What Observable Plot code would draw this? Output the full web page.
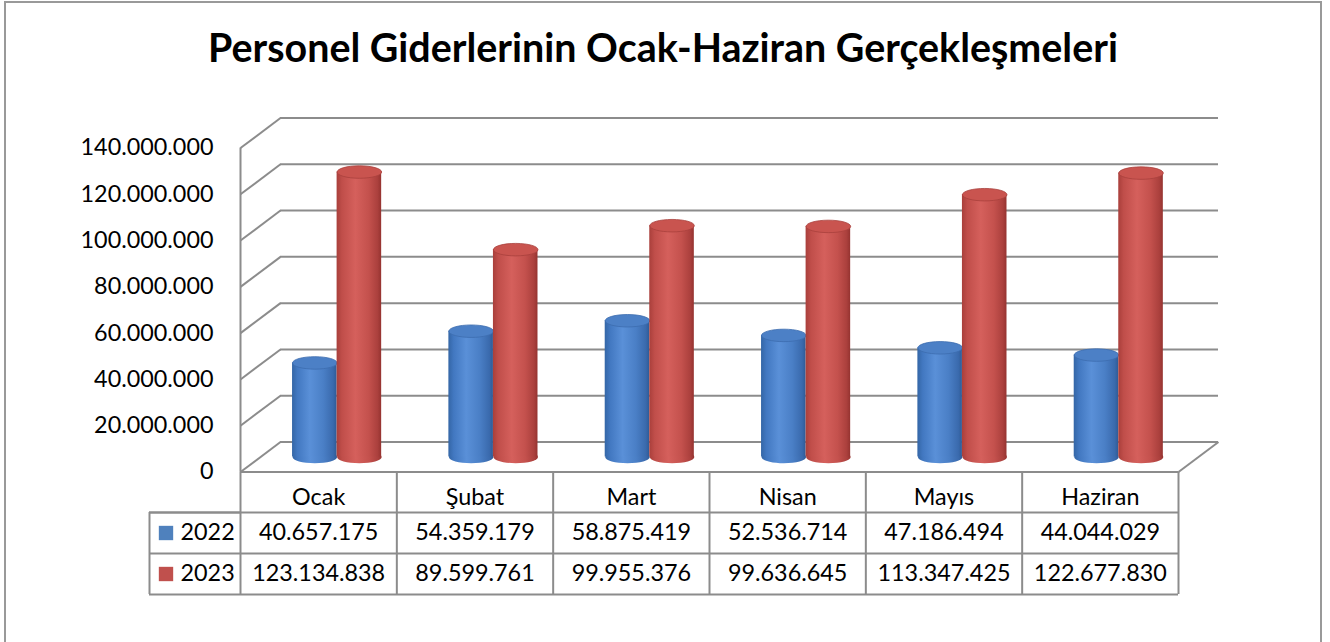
<!DOCTYPE html>
<html><head><meta charset="utf-8">
<script src="https://cdn.jsdelivr.net/npm/d3@7"></script>
<script src="https://cdn.jsdelivr.net/npm/@observablehq/plot@0.6"></script>
<style>
html,body{margin:0;padding:0;background:#fff;width:1330px;height:642px;overflow:hidden;}
#wrap{position:relative;width:1330px;height:642px;}
#frame{position:absolute;left:4px;top:1px;width:1318px;height:700px;border:2px solid #999;box-sizing:border-box;}
#chart{position:absolute;left:0;top:0;}
#title{position:absolute;left:0;top:0;}
</style></head>
<body><div id="wrap"><div id="frame"></div><div id="chart"></div><svg id="title" width="1330" height="90"></svg></div>
<script>
// ---- data ----
const titleText = "Personel Giderlerinin Ocak-Haziran Gerçekleşmeleri";
const months = ["Ocak", "Şubat", "Mart", "Nisan", "Mayıs", "Haziran"];
const series = ["2022", "2023"];
const values2022 = [40657175, 54359179, 58875419, 52536714, 47186494, 44044029];
const values2023 = [123134838, 89599761, 99955376, 99636645, 113347425, 122677830];
const yTicks = [0, 20000000, 40000000, 60000000, 80000000, 100000000, 120000000, 140000000];
const seriesColors = ["#4f81bd", "#c0504d"];

// ---- layout / style ----
const W = 1330, H = 642;
const left = 240, right = 1178, front0 = 471.5, frontTop = 147.5;
const depthX = 40, depthY = 30;
const yMax = yTicks[yTicks.length - 1];
const pxPerX = (right - left) / months.length;
const pxPerY = (front0 - frontTop) / yMax;
const DXu = depthX / pxPerX, DYu = depthY / pxPerY;
const barStart = [0.205, 0.49], barW = 0.285;
const grid = "#8c8c8c";
const tableLine = "#8c8c8c";
const rowBottoms = [40.5, 81.5, 122.5];
const rowText = [25.5, 61, 102];
const legendW = 91;

const fmt = d3.formatLocale({decimal: ",", thousands: ".", grouping: [3], currency: ["", ""]}).format(",d");

const ctx = document.createElement("canvas").getContext("2d");
function fit(text, target, weight = "normal", family = "Lato") {
  ctx.font = `${weight} 100px ${family}`;
  return 100 * target / ctx.measureText(text).width;
}
const numSize = fit("123.134.838", 133);
const titleSize = fit(titleText, 910, "bold");

const rows = months.flatMap((m, i) => series.map((s, k) => ({month: m, i, series: s, k, value: k ? values2023[i] : values2022[i]})));

const ellipse = {
  draw(c, size) {
    const rx = Math.sqrt(size / Math.PI), ry = rx * 0.28, q = 0.5523;
    c.moveTo(rx, 0);
    c.bezierCurveTo(rx, ry * q, rx * q, ry, 0, ry);
    c.bezierCurveTo(-rx * q, ry, -rx, ry * q, -rx, 0);
    c.bezierCurveTo(-rx, -ry * q, -rx * q, -ry, 0, -ry);
    c.bezierCurveTo(rx * q, -ry, rx, -ry * q, rx, 0);
    c.closePath();
  }
};

const gradStops = [
  [[0, "#3466a6"], [0.12, "#4278c1"], [0.4, "#5a90d8"], [0.7, "#4a7fc6"], [0.92, "#3a6aad"], [1, "#2f5b96"]],
  [[0, "#a93f3b"], [0.12, "#c04e4a"], [0.42, "#d5605c"], [0.72, "#c4514d"], [0.92, "#ab403d"], [1, "#953330"]]
];
const topFill = ["#4c80c6", "#c9544f"];
const topStroke = ["#3c6cae", "#a8403c"];

function defs() {
  const d = d3.create("svg:defs");
  gradStops.forEach((stops, k) => {
    const g = d.append("linearGradient").attr("id", "cyl" + k).attr("x1", 0).attr("x2", 1).attr("y1", 0).attr("y2", 0);
    stops.forEach(([o, c]) => g.append("stop").attr("offset", o).attr("stop-color", c));
  });
  return d.node();
}

const marks = [defs];
// back wall gridlines
marks.push(Plot.ruleY(yTicks, {y: d => d + DYu, x1: DXu, x2: months.length + DXu, stroke: grid, strokeWidth: 2, strokeOpacity: 1}));
// left wall diagonals
marks.push(Plot.link(yTicks, {x1: 0, y1: d => d, x2: DXu, y2: d => d + DYu, stroke: grid, strokeWidth: 2, strokeOpacity: 1}));
// floor right edge
marks.push(Plot.link([0], {x1: months.length, y1: 0, x2: months.length + DXu, y2: DYu, stroke: grid, strokeWidth: 2, strokeOpacity: 1}));
// left wall front edge
marks.push(Plot.ruleX([0], {y1: 0, y2: yMax, stroke: grid, strokeWidth: 2, strokeOpacity: 1}));

// cylinders
series.forEach((s, k) => {
  const data = rows.filter(d => d.k === k);
  const cx = d => d.i + barStart[k] + barW / 2 + DXu / 2;
  const r = barW * pxPerX / 2;
  marks.push(Plot.dot(data, {x: cx, y: DYu / 2, r, symbol: ellipse, fill: `url(#cyl${k})`, stroke: "none"}));
  marks.push(Plot.rect(data, {x1: d => d.i + barStart[k] + DXu / 2, x2: d => d.i + barStart[k] + barW + DXu / 2, y1: DYu / 2, y2: d => d.value + DYu / 2, fill: `url(#cyl${k})`}));
  marks.push(Plot.dot(data, {x: cx, y: d => d.value + DYu / 2, r, symbol: ellipse, fill: topFill[k], stroke: topStroke[k], strokeWidth: 0.8}));
});

// data table
marks.push(Plot.ruleY([0], {x1: 0, x2: months.length, stroke: tableLine, strokeWidth: 2, strokeOpacity: 1}));
rowBottoms.forEach((b, r) => {
  marks.push(Plot.ruleY([0], {x1: 0, x2: months.length, insetLeft: -legendW, dy: b, stroke: tableLine, strokeWidth: 2, strokeOpacity: 1}));
});
marks.push(Plot.ruleY([0], {x1: 0, x2: 0, insetLeft: -legendW, dy: rowBottoms[0], stroke: tableLine, strokeWidth: 2, strokeOpacity: 1}));
marks.push(Plot.ruleX(d3.range(months.length + 1), {y1: 0, y2: 0, insetBottom: -rowBottoms[2], stroke: tableLine, strokeWidth: 2, strokeOpacity: 1}));
marks.push(Plot.ruleX([0], {y1: 0, y2: 0, insetTop: rowBottoms[0], insetBottom: -rowBottoms[2], dx: -legendW, stroke: tableLine, strokeWidth: 2, strokeOpacity: 1}));
marks.push(Plot.text(months, {x: (d, i) => i + 0.5, y: 0, dy: rowText[0], text: d => d, fill: "#000"}));
series.forEach((s, k) => {
  const data = rows.filter(d => d.k === k);
  marks.push(Plot.text(data, {x: d => d.i + 0.5, y: 0, dy: rowText[k + 1], text: d => fmt(d.value), fill: "#000"}));
  marks.push(Plot.dot([s], {x: 0, y: 0, dx: -74.5, dy: rowText[k + 1], r: 8.1, symbol: "square", fill: seriesColors[k], stroke: "none"}));
  marks.push(Plot.text([s], {x: 0, y: 0, dx: -60, dy: rowText[k + 1], text: d => d, textAnchor: "start", fill: "#000"}));
});

const chart = Plot.plot({
  width: W, height: H,
  marginLeft: left, marginRight: W - right,
  marginTop: frontTop - depthY, marginBottom: H - front0,
  x: {domain: [0, months.length], axis: null},
  y: {domain: [0, yMax + DYu], ticks: yTicks, tickFormat: fmt, tickSize: 0, tickPadding: 27, label: null},
  style: {fontFamily: "Lato", fontSize: numSize + "px", color: "#000", background: "transparent", overflow: "visible"},
  marks
});
document.getElementById("chart").appendChild(chart);

d3.select("#title").append("text")
  .attr("x", 663).attr("y", 62)
  .attr("text-anchor", "middle")
  .attr("font-family", "Lato").attr("font-weight", "bold")
  .attr("font-size", titleSize)
  .attr("fill", "#000")
  .text(titleText);
</script></body></html>
